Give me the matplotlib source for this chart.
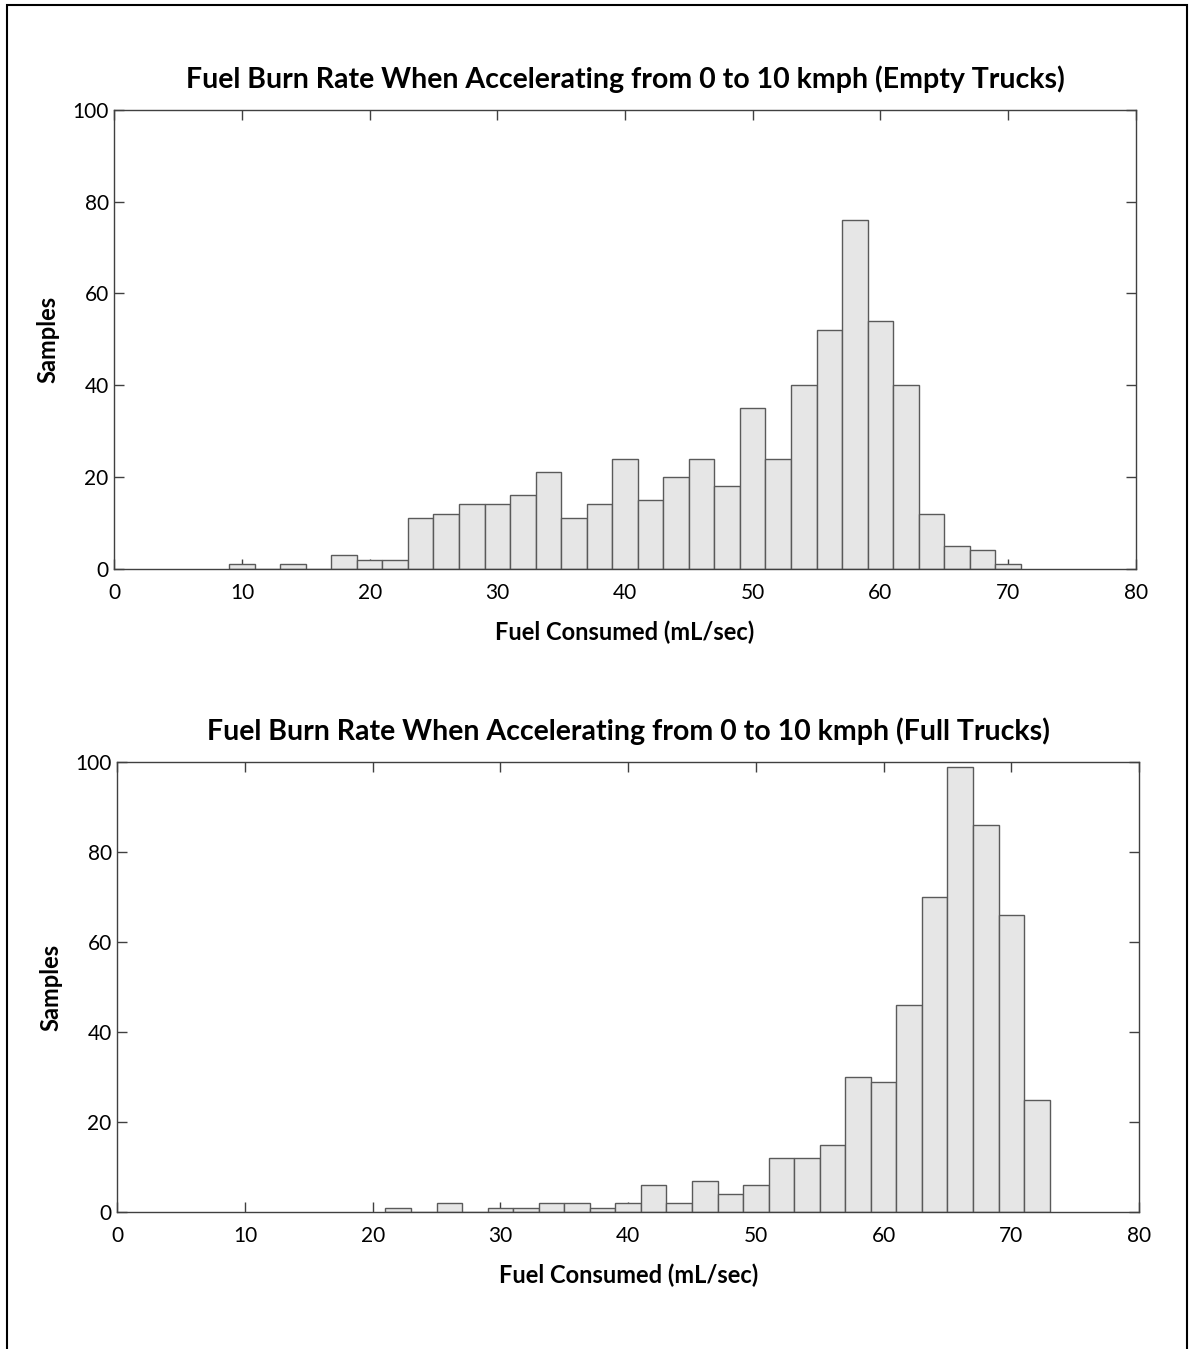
import matplotlib
matplotlib.use("Agg")
import matplotlib.pyplot as plt
from matplotlib.patches import Rectangle

# ---- data ----
empty_centers = [10, 12, 14, 16, 18, 20, 22, 24, 26, 28, 30, 32, 34, 36, 38, 40,
                 42, 44, 46, 48, 50, 52, 54, 56, 58, 60, 62, 64, 66, 68, 70]
empty_counts = [1, 0, 1, 0, 3, 2, 2, 11, 12, 14, 14, 16, 21, 11, 14, 24,
                15, 20, 24, 18, 35, 24, 40, 52, 76, 54, 40, 12, 5, 4, 1]

full_centers = [22, 24, 26, 28, 30, 32, 34, 36, 38, 40, 42, 44, 46, 48, 50, 52,
                54, 56, 58, 60, 62, 64, 66, 68, 70, 72]
full_counts = [1, 0, 2, 0, 1, 1, 2, 2, 1, 2, 6, 2, 7, 4, 6, 12,
               12, 15, 30, 29, 46, 70, 99, 86, 66, 25]

bin_width = 2
x_ticks = [0, 10, 20, 30, 40, 50, 60, 70, 80]
y_ticks = [0, 20, 40, 60, 80, 100]
titles = ["Fuel Burn Rate When Accelerating from 0 to 10 kmph (Empty Trucks)",
          "Fuel Burn Rate When Accelerating from 0 to 10 kmph (Full Trucks)"]
xlabel = "Fuel Consumed (mL/sec)"
ylabel = "Samples"

plt.rcParams['font.family'] = ['Lato', 'DejaVu Sans']

W, H = 1193, 1349
fig = plt.figure(figsize=(W / 100, H / 100), dpi=100)

def px_axes(left, top, right, bottom):
    return fig.add_axes([left / W, 1 - bottom / H, (right - left) / W, (bottom - top) / H])

ax1 = px_axes(114.3, 110, 1135.7, 568.7)
ax2 = px_axes(117.3, 762.3, 1139, 1212)

spine_col = '#404040'
for ax, centers, counts, title in [(ax1, empty_centers, empty_counts, titles[0]),
                                   (ax2, full_centers, full_counts, titles[1])]:
    ax.bar(centers, counts, width=bin_width, color='#e6e6e6',
           edgecolor='#5a5a5a', linewidth=1.0)
    ax.set_xlim(0, 80)
    ax.set_ylim(0, 100)
    ax.set_xticks(x_ticks)
    ax.set_yticks(y_ticks)
    ax.set_axisbelow(True)
    ax.tick_params(direction='in', length=7, width=1.0, color=spine_col,
                   top=True, right=True, labelsize=15, labelcolor='black')
    ax.tick_params(axis='x', pad=10)
    ax.tick_params(axis='y', pad=4)
    for s in ax.spines.values():
        s.set_color(spine_col)
        s.set_linewidth(1.0)
    ax.set_title(title, fontsize=20.5, fontweight='bold', pad=16)
    ax.set_xlabel(xlabel, fontsize=17, fontweight='bold', labelpad=13)
    ax.set_ylabel(ylabel, fontsize=17, fontweight='bold', labelpad=9)

# outer frame
fig.patches.append(Rectangle((7 / W, -0.05), (1187 - 7) / W, 1 - 5 / H + 0.05,
                             transform=fig.transFigure, fill=False,
                             edgecolor='black', linewidth=1.5))

fig.savefig("out.png", dpi=100, facecolor='white')
